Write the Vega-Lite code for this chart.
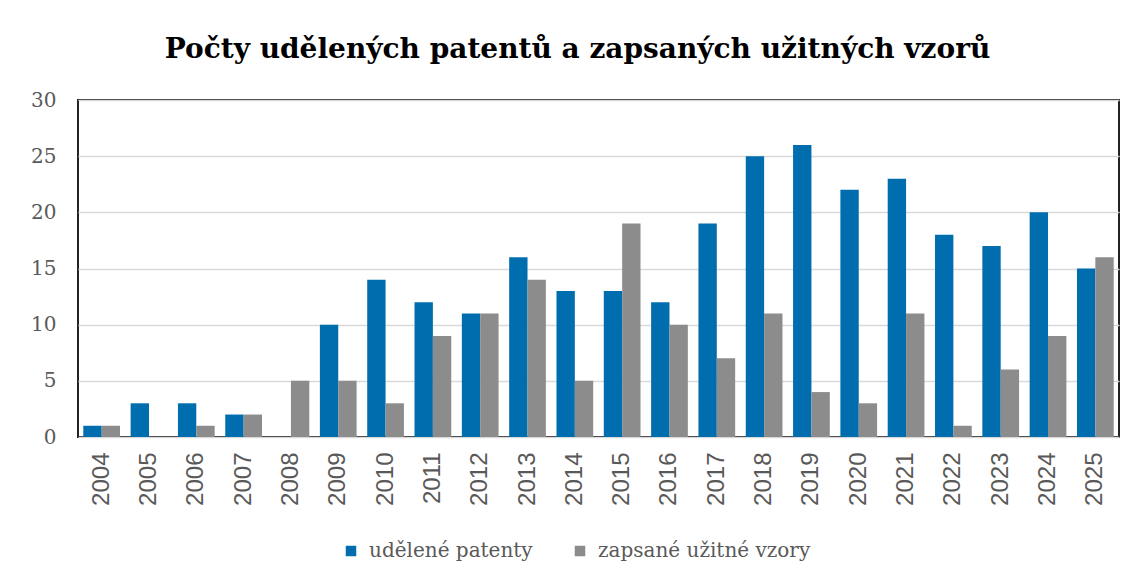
{
  "$schema": "https://vega.github.io/schema/vega-lite/v6.json",
  "width": 1041,
  "height": 337,
  "autosize": "none",
  "padding": {"left": 78, "top": 100, "right": 15, "bottom": 147},
  "background": "white",
  "title": {
    "text": "Počty udělených patentů a zapsaných užitných vzorů",
    "font": "DejaVu Serif",
    "fontSize": 28,
    "fontWeight": "bold",
    "color": "#000000",
    "anchor": "middle",
    "offset": 26,
    "dx": -21
  },
  "data": {
    "values": [
      {"rok": "2004", "typ": "udělené patenty", "pocet": 1},
      {"rok": "2004", "typ": "zapsané užitné vzory", "pocet": 1},
      {"rok": "2005", "typ": "udělené patenty", "pocet": 3},
      {"rok": "2005", "typ": "zapsané užitné vzory", "pocet": 0},
      {"rok": "2006", "typ": "udělené patenty", "pocet": 3},
      {"rok": "2006", "typ": "zapsané užitné vzory", "pocet": 1},
      {"rok": "2007", "typ": "udělené patenty", "pocet": 2},
      {"rok": "2007", "typ": "zapsané užitné vzory", "pocet": 2},
      {"rok": "2008", "typ": "udělené patenty", "pocet": 0},
      {"rok": "2008", "typ": "zapsané užitné vzory", "pocet": 5},
      {"rok": "2009", "typ": "udělené patenty", "pocet": 10},
      {"rok": "2009", "typ": "zapsané užitné vzory", "pocet": 5},
      {"rok": "2010", "typ": "udělené patenty", "pocet": 14},
      {"rok": "2010", "typ": "zapsané užitné vzory", "pocet": 3},
      {"rok": "2011", "typ": "udělené patenty", "pocet": 12},
      {"rok": "2011", "typ": "zapsané užitné vzory", "pocet": 9},
      {"rok": "2012", "typ": "udělené patenty", "pocet": 11},
      {"rok": "2012", "typ": "zapsané užitné vzory", "pocet": 11},
      {"rok": "2013", "typ": "udělené patenty", "pocet": 16},
      {"rok": "2013", "typ": "zapsané užitné vzory", "pocet": 14},
      {"rok": "2014", "typ": "udělené patenty", "pocet": 13},
      {"rok": "2014", "typ": "zapsané užitné vzory", "pocet": 5},
      {"rok": "2015", "typ": "udělené patenty", "pocet": 13},
      {"rok": "2015", "typ": "zapsané užitné vzory", "pocet": 19},
      {"rok": "2016", "typ": "udělené patenty", "pocet": 12},
      {"rok": "2016", "typ": "zapsané užitné vzory", "pocet": 10},
      {"rok": "2017", "typ": "udělené patenty", "pocet": 19},
      {"rok": "2017", "typ": "zapsané užitné vzory", "pocet": 7},
      {"rok": "2018", "typ": "udělené patenty", "pocet": 25},
      {"rok": "2018", "typ": "zapsané užitné vzory", "pocet": 11},
      {"rok": "2019", "typ": "udělené patenty", "pocet": 26},
      {"rok": "2019", "typ": "zapsané užitné vzory", "pocet": 4},
      {"rok": "2020", "typ": "udělené patenty", "pocet": 22},
      {"rok": "2020", "typ": "zapsané užitné vzory", "pocet": 3},
      {"rok": "2021", "typ": "udělené patenty", "pocet": 23},
      {"rok": "2021", "typ": "zapsané užitné vzory", "pocet": 11},
      {"rok": "2022", "typ": "udělené patenty", "pocet": 18},
      {"rok": "2022", "typ": "zapsané užitné vzory", "pocet": 1},
      {"rok": "2023", "typ": "udělené patenty", "pocet": 17},
      {"rok": "2023", "typ": "zapsané užitné vzory", "pocet": 6},
      {"rok": "2024", "typ": "udělené patenty", "pocet": 20},
      {"rok": "2024", "typ": "zapsané užitné vzory", "pocet": 9},
      {"rok": "2025", "typ": "udělené patenty", "pocet": 15},
      {"rok": "2025", "typ": "zapsané užitné vzory", "pocet": 16}
    ]
  },
  "mark": {"type": "bar"},
  "encoding": {
    "x": {
      "field": "rok",
      "type": "nominal",
      "title": null,
      "scale": {"paddingInner": 0.224, "paddingOuter": 0.112},
      "axis": {
        "labelAngle": -90,
        "labelFont": "Liberation Sans",
        "labelFontSize": 24,
        "labelColor": "#595959",
        "labelPadding": 15,
        "ticks": false,
        "domain": false
      }
    },
    "xOffset": {"field": "typ", "type": "nominal"},
    "y": {
      "field": "pocet",
      "type": "quantitative",
      "title": null,
      "scale": {"domain": [0, 30], "nice": false},
      "axis": {
        "values": [0, 5, 10, 15, 20, 25, 30],
        "labelFont": "DejaVu Serif",
        "labelFontSize": 20,
        "labelColor": "#595959",
        "labelPadding": 22,
        "ticks": false,
        "domain": false,
        "gridColor": "#D9D9D9",
        "gridWidth": 1.5
      }
    },
    "color": {
      "field": "typ",
      "type": "nominal",
      "title": null,
      "scale": {
        "domain": ["udělené patenty", "zapsané užitné vzory"],
        "range": ["#006EAE", "#8C8C8C"]
      },
      "legend": {
        "orient": "none",
        "legendX": 263,
        "legendY": 441,
        "direction": "horizontal",
        "symbolType": "square",
        "symbolSize": 110,
        "labelFont": "DejaVu Serif",
        "labelFontSize": 20,
        "labelColor": "#595959",
        "labelOffset": 8,
        "columnPadding": 37,
        "labelLimit": 400
      }
    }
  },
  "config": {
    "view": {"stroke": "#222222", "strokeWidth": 2}
  }
}
